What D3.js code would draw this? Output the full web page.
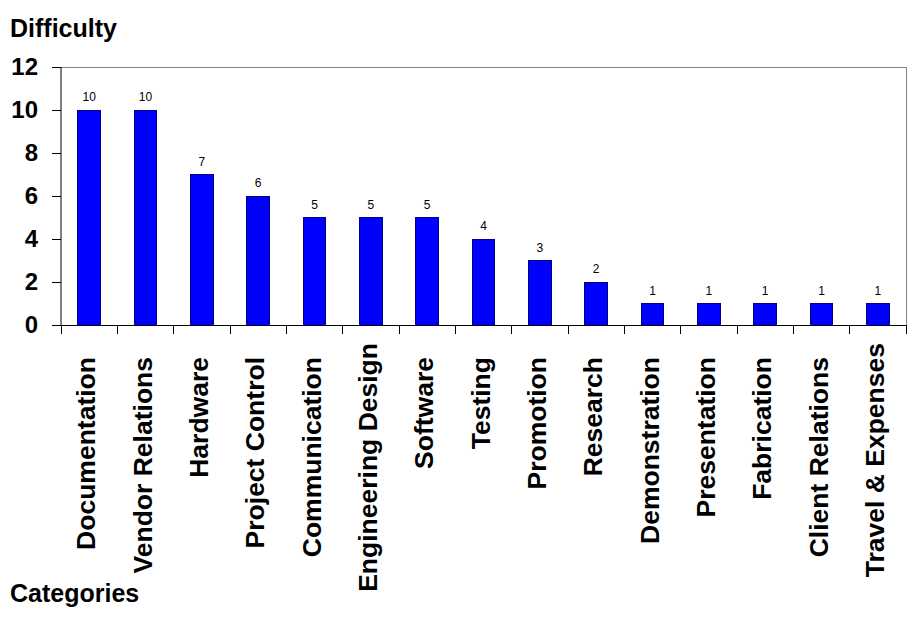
<!DOCTYPE html>
<html><head><meta charset="utf-8">
<script src="https://cdn.jsdelivr.net/npm/d3@7"></script>
<style>
html,body{margin:0;padding:0;background:#fff;}
text{font-family:Arial,"Liberation Sans",sans-serif;}
</style></head>
<body>
<svg id="chart" width="911" height="623"></svg>
<script>
const categories = ["Documentation","Vendor Relations","Hardware","Project Control","Communication","Engineering Design","Software","Testing","Promotion","Research","Demonstration","Presentation","Fabrication","Client Relations","Travel & Expenses"];
const values = [10,10,7,6,5,5,5,4,3,2,1,1,1,1,1];
const yTicks = [0,2,4,6,8,10,12];
const yTitle = "Difficulty";
const xTitle = "Categories";

const svg = d3.select("#chart");
const L = 61, R = 906, T = 67, B = 325;

const x = d3.scaleBand().domain(categories).range([L, R]).paddingInner(0.6).paddingOuter(0.3);
const xb = d3.scaleBand().domain(categories).range([L, R]);
const y = d3.scaleLinear().domain([0, 12]).range([B, T]);

// plot border (top/right gray)
svg.append("path").attr("d", `M${L},${T}H${R}V${B}`).attr("fill","none").attr("stroke","#808080").attr("stroke-width",1).attr("shape-rendering","crispEdges");

// bars
svg.selectAll("rect.bar").data(values).enter().append("rect")
  .attr("class","bar")
  .attr("x",(d,i)=>x(categories[i]))
  .attr("width",x.bandwidth())
  .attr("y",d=>y(d))
  .attr("height",d=>B-y(d))
  .attr("fill","#0000FF").attr("stroke","#000080").attr("stroke-width",1)
  .attr("shape-rendering","crispEdges");

// value labels
svg.selectAll("text.val").data(values).enter().append("text")
  .attr("class","val")
  .attr("x",(d,i)=>xb(categories[i])+xb.bandwidth()/2)
  .attr("y",d=>y(d)-9)
  .attr("text-anchor","middle").attr("font-size","12px").attr("fill","#000")
  .text(d=>d);

// y axis
const yAxis = d3.axisLeft(y).tickValues(yTicks).tickSize(9).tickPadding(14).tickFormat(d3.format("d"));
const gy = svg.append("g").attr("transform",`translate(${L},0)`).call(yAxis);
gy.select(".domain").attr("stroke","#000").attr("d",`M0,${T}V${B}`);
gy.selectAll("line").attr("stroke","#000");
gy.selectAll("text").attr("font-size","24px").attr("font-weight","bold").attr("font-family","Arial, 'Liberation Sans', sans-serif").attr("fill","#000");

// x axis line + ticks at band boundaries
const boundaries = categories.map(c=>xb(c)).concat([R]);
svg.append("line").attr("x1",L).attr("x2",R).attr("y1",B).attr("y2",B).attr("stroke","#000").attr("shape-rendering","crispEdges");
svg.selectAll("line.xt").data(boundaries).enter().append("line")
  .attr("class","xt").attr("x1",d=>d).attr("x2",d=>d).attr("y1",B).attr("y2",B+9)
  .attr("stroke","#000").attr("shape-rendering","crispEdges");

// category labels
const lab = svg.selectAll("text.cat").data(categories).enter().append("text")
  .attr("class","cat")
  .attr("font-size","26.5px").attr("font-weight","bold").attr("fill","#000")
  .attr("text-anchor","end")
  .text(d=>d);
lab.each(function(d){
  const len = this.getComputedTextLength();
  const top = len > 228 ? 343 : 357;
  const cx = xb(d) + xb.bandwidth()/2 + 6;
  d3.select(this).attr("transform",`translate(${cx},${top}) rotate(-90)`);
});

// titles
svg.append("text").attr("x",10).attr("y",37).attr("font-size","25px").attr("font-weight","bold").text(yTitle);
svg.append("text").attr("x",10).attr("y",602).attr("font-size","25px").attr("font-weight","bold").text(xTitle);
</script>
</body></html>
